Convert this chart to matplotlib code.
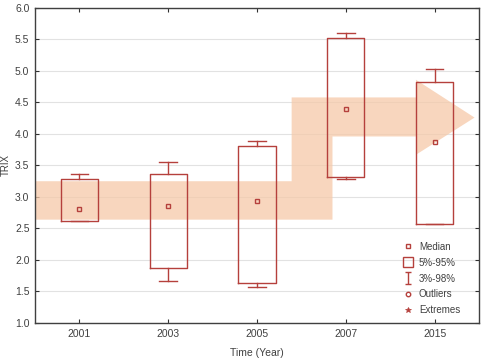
"""
Box plot of TRIX versus time with a trend arrow behind the boxes.
"""

import matplotlib
matplotlib.use("Agg")
import matplotlib.pyplot as plt
from matplotlib.lines import Line2D
from matplotlib.patches import Polygon
from matplotlib.path import Path

plt.rcParams["font.family"] = ["Liberation Sans", "DejaVu Sans"]

years = ["2001", "2003", "2005", "2007", "2015"]
medians = [2.81, 2.86, 2.93, 4.40, 3.87]
q_low = [2.62, 1.88, 1.63, 3.31, 2.57]      # 5%
q_high = [3.28, 3.36, 3.81, 5.52, 4.82]     # 95%
whisk_low = [2.62, 1.66, 1.57, 3.28, 2.57]  # 3%
whisk_high = [3.37, 3.56, 3.89, 5.61, 5.03]  # 98%

# trend arrow outline (x in category units, y in TRIX)
arrow_x = [-0.5, 2.85, 2.85, 3.79, 3.79, 4.45, 3.79, 3.79, 2.39, 2.39, -0.5]
arrow_y = [2.64, 2.64, 3.96, 3.96, 3.67, 4.26, 4.86, 4.58, 4.58, 3.25, 3.25]

EDGE = "#b5403c"
TEXT = "#404040"

fig = plt.figure(figsize=(4.84, 3.58), dpi=100)
ax = fig.add_axes([0.0723, 0.0978, 0.9174, 0.88])

positions = list(range(len(years)))

# arrow
ax.add_patch(Polygon(list(zip(arrow_x, arrow_y)), closed=True,
                     facecolor="#f6c9a9", edgecolor="none", alpha=0.75, zorder=1))

stats = []
for i in positions:
    stats.append(dict(med=medians[i], q1=q_low[i], q3=q_high[i],
                      whislo=whisk_low[i], whishi=whisk_high[i]))
ax.bxp(stats, positions=positions, widths=0.42, showfliers=False,
       boxprops=dict(color=EDGE, linewidth=1.0),
       whiskerprops=dict(color=EDGE, linewidth=1.0),
       capprops=dict(color=EDGE, linewidth=1.0),
       medianprops=dict(linewidth=0),
       capwidths=0.2, zorder=3)
ax.plot(positions, medians, "s", ms=3.2, mfc="none", mec=EDGE, mew=1.0, zorder=4)

ax.set_xlim(-0.5, 4.5)
ax.set_ylim(1.0, 6.0)
ax.set_xticks(positions)
ax.set_xticklabels(years)
ax.set_yticks([1.0 + 0.5 * k for k in range(11)])
ax.set_yticklabels(["%.1f" % (1.0 + 0.5 * k) for k in range(11)])
ax.yaxis.grid(True, color="#e2e2e2", linewidth=0.8, zorder=0)
ax.set_axisbelow(True)
ax.tick_params(direction="in", length=3, width=0.8, colors="#303030",
               labelsize=7.5, labelcolor=TEXT, top=True, right=True, pad=4)
for sp in ax.spines.values():
    sp.set_color("#404040")
    sp.set_linewidth(1.0)

ax.set_xlabel("Time (Year)", fontsize=7.5, color=TEXT, labelpad=7)
ax.set_ylabel("TRIX", fontsize=7, color=TEXT, labelpad=3)

# legend
ibar = Path([(-0.5, -1), (0.5, -1), (0, -1), (0, 1), (-0.5, 1), (0.5, 1)],
            [Path.MOVETO, Path.LINETO, Path.MOVETO, Path.LINETO,
             Path.MOVETO, Path.LINETO])
handles = [
    Line2D([], [], ls="none", marker="s", ms=3.2, mfc="none", mec=EDGE, mew=1.0),
    Line2D([], [], ls="none", marker="s", ms=7.5, mfc="none", mec=EDGE, mew=1.0),
    Line2D([], [], ls="none", marker=ibar, ms=8, mfc="none", mec=EDGE, mew=1.0),
    Line2D([], [], ls="none", marker="o", ms=3.2, mfc="none", mec=EDGE, mew=1.0),
    Line2D([], [], ls="none", marker="*", ms=4, mfc=EDGE, mec=EDGE, mew=0.5),
]
labels = ["Median", "5%-95%", "3%-98%", "Outliers", "Extremes"]
ax.legend(handles, labels, loc="lower right", frameon=False, fontsize=7,
          labelcolor=TEXT, handlelength=1.2, handletextpad=0.5,
          labelspacing=0.6, borderaxespad=0.4, bbox_to_anchor=(0.975, 0.0))

fig.savefig("out.png", dpi=100)
